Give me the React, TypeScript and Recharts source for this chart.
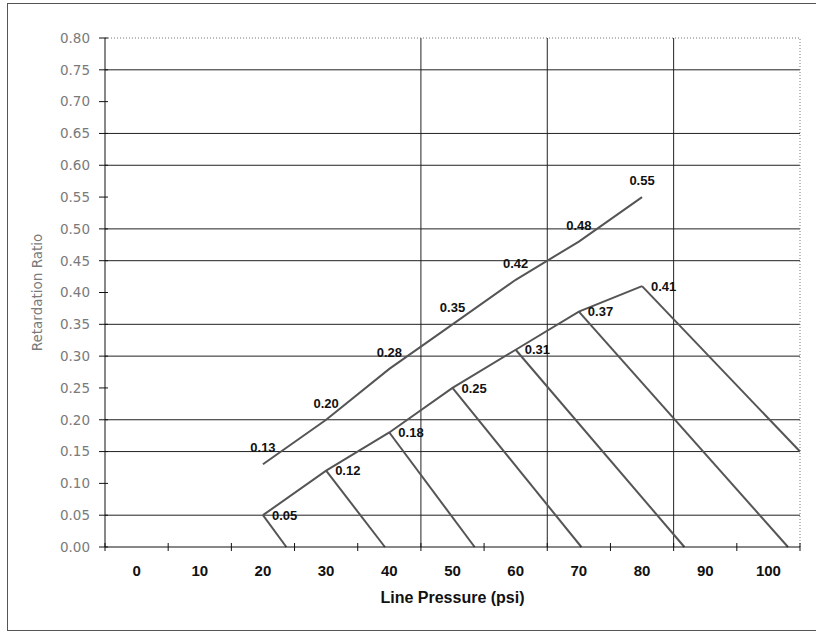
import React from 'react';
import { LineChart, Line, XAxis, YAxis, ReferenceLine, LabelList } from 'recharts';

// ---- data ----
const pressure = [20, 30, 40, 50, 60, 70, 80];
const upperRatio = [0.13, 0.2, 0.28, 0.35, 0.42, 0.48, 0.55];
const lowerRatio = [0.05, 0.12, 0.18, 0.25, 0.31, 0.37, 0.41];
// end points of the descending lines that start at each lower-curve point
const dropEndPressure = [23.7, 39.3, 53.5, 70.4, 86.7, 103.1, 105];
const dropEndRatio = [0, 0, 0, 0, 0, 0, 0.15];

const xTicks = [-5, 0, 5, 10, 15, 20, 25, 30, 35, 40, 45, 50, 55, 60, 65, 70, 75, 80, 85, 90, 95, 100, 105];
const yTicks = [0, 0.05, 0.1, 0.15, 0.2, 0.25, 0.3, 0.35, 0.4, 0.45, 0.5, 0.55, 0.6, 0.65, 0.7, 0.75, 0.8];
const hGrid = [0.75, 0.65, 0.6, 0.5, 0.45, 0.35, 0.3, 0.2, 0.15, 0.05];
const vGrid = [45, 65, 85];

const upperData = pressure.map((x, i) => ({ x, y: upperRatio[i] }));
const lowerData = pressure.map((x, i) => ({ x, y: lowerRatio[i] }));
const dropData = pressure.map((x, i) => [
  { x, y: lowerRatio[i] },
  { x: dropEndPressure[i], y: dropEndRatio[i] },
]);

const LINE = '#555';
const fmt = (v: any) => Number(v).toFixed(2);

const XTick = (props: any) => {
  const { x, y, payload } = props;
  const v = payload.value;
  if (Math.abs(v % 10) === 5) {
    return <line x1={x} x2={x} y1={y - 4} y2={y + 4} stroke="#111" strokeWidth={1} />;
  }
  return (
    <text x={x} y={y + 29} textAnchor="middle" fontFamily="'Liberation Sans', Arial, sans-serif" fontSize={15} fontWeight="bold" fill="#111">
      {v}
    </text>
  );
};

const YTick = (props: any) => {
  const { x, y, payload } = props;
  return (
    <g>
      <line x1={x - 6} x2={x + 3} y1={y} y2={y} stroke="#111" strokeWidth={1} />
      <text x={x - 15} y={y} dy="0.36em" textAnchor="end" fontFamily="'DejaVu Sans', Verdana, sans-serif" fontSize={13.5} fill="#7a7a7a">
        {Number(payload.value).toFixed(2)}
      </text>
    </g>
  );
};

const labelStyle = {
  fill: '#111',
  fontSize: 13,
  fontWeight: 'bold' as const,
  fontFamily: "'Liberation Sans', Arial, sans-serif",
};

export default function App() {
  return (
    <div style={{ position: 'absolute', left: 0, top: 0, width: 816, height: 631, overflow: 'hidden', background: '#fff' }}>
      <div
        style={{
          position: 'absolute',
          left: 7,
          top: 3,
          width: 830,
          height: 628,
          boxSizing: 'border-box',
          border: '1px solid #555',
        }}
      />
      <div style={{ position: 'absolute', left: 0, top: 0 }}>
        <LineChart width={816} height={631} margin={{ top: 38, right: 16, bottom: 24, left: 35 }}>
          {hGrid.map((v) => (
            <ReferenceLine key={'h' + v} y={v} stroke="#222" strokeWidth={1} />
          ))}
          {vGrid.map((v) => (
            <ReferenceLine key={'v' + v} x={v} stroke="#222" strokeWidth={1} />
          ))}
          <ReferenceLine y={0.8} stroke="#777" strokeDasharray="1 2" />
          <ReferenceLine x={105} stroke="#777" strokeDasharray="1 2" />
          <XAxis
            type="number"
            dataKey="x"
            domain={[-5, 105]}
            ticks={xTicks}
            interval={0}
            tickSize={0}
            tickMargin={0}
            height={60}
            tick={<XTick />}
            axisLine={{ stroke: '#111' }}
            label={{
              value: 'Line Pressure (psi)',
              position: 'insideBottom',
              offset: 4,
              style: { fontFamily: "'Liberation Sans', Arial, sans-serif", fontSize: 16, fontWeight: 'bold', fill: '#111' },
            }}
          />
          <YAxis
            type="number"
            domain={[0, 0.8]}
            ticks={yTicks}
            interval={0}
            tickSize={0}
            tickMargin={0}
            width={70}
            tick={<YTick />}
            axisLine={{ stroke: '#111' }}
            label={{
              value: 'Retardation Ratio',
              angle: -90,
              position: 'insideLeft',
              offset: 2,
              style: { textAnchor: 'middle', fontFamily: "'DejaVu Sans', Verdana, sans-serif", fontSize: 13.5, fill: '#7a7a7a' },
            }}
          />
          <Line data={upperData} dataKey="y" stroke={LINE} strokeWidth={2} dot={false} isAnimationActive={false}>
            <LabelList dataKey="y" position="top" offset={12} formatter={fmt} {...labelStyle} />
          </Line>
          <Line data={lowerData} dataKey="y" stroke={LINE} strokeWidth={2} dot={false} isAnimationActive={false}>
            <LabelList dataKey="y" position="right" offset={9} formatter={fmt} {...labelStyle} />
          </Line>
          {dropData.map((d, i) => (
            <Line key={'d' + i} data={d} dataKey="y" stroke={LINE} strokeWidth={2} dot={false} isAnimationActive={false} />
          ))}
        </LineChart>
      </div>
    </div>
  );
}
